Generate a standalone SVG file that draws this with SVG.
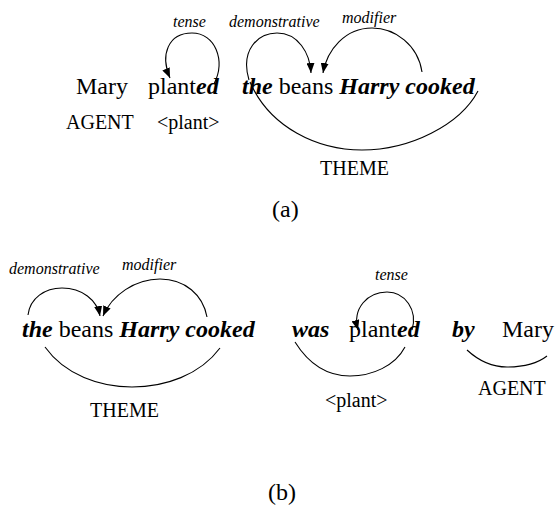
<svg xmlns="http://www.w3.org/2000/svg" width="558" height="510" viewBox="0 0 558 510">
<style>
text{font-family:"Liberation Serif","Times New Roman",serif;fill:#000}
.w{font-size:24px}
.r{font-size:20px}
.l{font-size:16px;font-style:italic}
.bi{font-weight:bold;font-style:italic}
.c{fill:none;stroke:#000;stroke-width:1.1}
.a{marker-end:url(#ah)}
</style>
<defs>
<marker id="ah" viewBox="0 0 10 8" refX="10" refY="4" markerWidth="10" markerHeight="8" markerUnits="userSpaceOnUse" orient="auto">
<path d="M0,0 L10,4 L0,8 z" fill="#000"/>
</marker>
</defs>
<rect width="558" height="510" fill="#fff"/>
<g id="connectors">
<path class="c a" d="M214,84 C226,60 215,33 192,33 C168,33 160,55 170,78"/>
<path class="c a" d="M249,80 C240,50 258,33 277,33 C298,33 310,53 311,73"/>
<path class="c a" d="M422,72 C418,45 395,28 372,28 C345,28 327,50 323,73"/>
<path class="c" d="M250,82 C270,128 318,150 362,150 C410,150 460,125 478,91"/>
<path class="c a" d="M28,315 C30,298 45,288 62,288 C82,288 97,300 100,316"/>
<path class="c a" d="M207,317 C203,295 185,279 160,279 C135,279 112,295 103,316"/>
<path class="c" d="M45,347 C65,375 100,387 132,387 C165,387 200,375 220,348"/>
<path class="c a" d="M412,330 C418,310 405,292 387,292 C368,292 352,308 358,330"/>
<path class="c" d="M295,342 C310,366 330,376 350,376 C372,376 395,366 405,347"/>
<path class="c" d="M467,350 C480,362 493,367 507,367 C523,367 538,363 547,356"/>
</g>
<g id="a-mary"><text class="w" x="76" y="94">Mary</text></g>
<g id="a-planted"><text class="w" x="148" y="94">plant<tspan class="bi">ed</tspan></text></g>
<g id="a-phrase"><text class="w" x="242" y="94"><tspan class="bi">the</tspan> beans <tspan class="bi">Harry cooked</tspan></text></g>
<g id="a-agent"><text class="r" x="66" y="129">AGENT</text></g>
<g id="a-plant"><text class="r" x="157" y="129">&lt;plant&gt;</text></g>
<g id="a-theme"><text class="r" x="320" y="175">THEME</text></g>
<g id="a-tense"><text class="l" x="173" y="27">tense</text></g>
<g id="a-demonstrative"><text class="l" x="229" y="27">demonstrative</text></g>
<g id="a-modifier"><text class="l" x="342" y="23">modifier</text></g>
<g id="a-label"><text class="w" x="272" y="217">(a)</text></g>
<g id="b-phrase"><text class="w" x="22" y="337"><tspan class="bi">the</tspan> beans <tspan class="bi">Harry cooked</tspan></text></g>
<g id="b-was"><text class="w bi" x="292" y="337">was</text></g>
<g id="b-planted"><text class="w" x="349" y="337">plant<tspan class="bi">ed</tspan></text></g>
<g id="b-by"><text class="w bi" x="452" y="337">by</text></g>
<g id="b-mary"><text class="w" x="502" y="337">Mary</text></g>
<g id="b-demonstrative"><text class="l" x="9" y="274">demonstrative</text></g>
<g id="b-modifier"><text class="l" x="122" y="270">modifier</text></g>
<g id="b-tense"><text class="l" x="375" y="280">tense</text></g>
<g id="b-theme"><text class="r" x="90" y="417">THEME</text></g>
<g id="b-plant"><text class="r" x="325" y="407">&lt;plant&gt;</text></g>
<g id="b-agent"><text class="r" x="478" y="395">AGENT</text></g>
<g id="b-label"><text class="w" x="268" y="500">(b)</text></g>
</svg>
